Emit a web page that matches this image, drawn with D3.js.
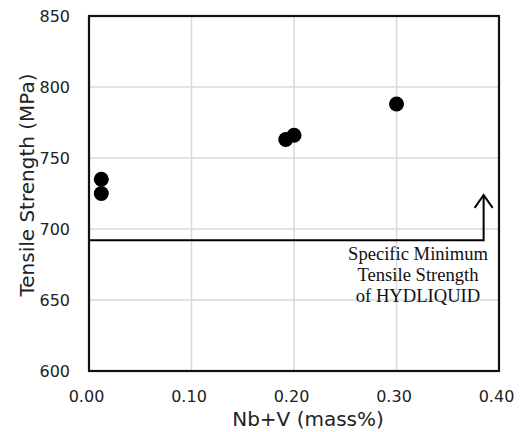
<!DOCTYPE html>
<html>
<head>
<meta charset="utf-8">
<script src="https://cdn.jsdelivr.net/npm/d3@7"></script>
<style>
  body { margin: 0; background: #fff; }
  svg { display: block; }
</style>
</head>
<body>
<svg id="chart"></svg>
<script>
// Nb+V content vs tensile strength
const nbv = [0.012, 0.012, 0.192, 0.200, 0.300];
const strength = [735, 725, 763, 766, 788];
const xTicks = [0, 0.1, 0.2, 0.3, 0.4];
const yTicks = [600, 650, 700, 750, 800, 850];
const smtsValue = 692;      // specific minimum tensile strength line
const smtsArrowX = 0.385;   // where the line turns up
const smtsArrowTop = 724;
const noteLines = ["Specific Minimum", "Tensile Strength", "of HYDLIQUID"];

const W = 521, H = 432;
const margin = { top: 16, right: 22, bottom: 61, left: 89 };
const width = W - margin.left - margin.right;
const height = H - margin.top - margin.bottom;
const sans = "'DejaVu Sans', Verdana, sans-serif";

const svg = d3.select("#chart")
    .attr("width", W)
    .attr("height", H);

const g = svg.append("g")
    .attr("transform", `translate(${margin.left},${margin.top})`);

const x = d3.scaleLinear().domain([0, 0.4]).range([0, width]);
const y = d3.scaleLinear().domain([600, 850]).range([height, 0]);

// gridlines
g.append("g")
    .selectAll("line")
    .data(xTicks.slice(1, -1))
    .enter()
    .append("line")
    .attr("x1", d => x(d)).attr("x2", d => x(d))
    .attr("y1", 0).attr("y2", height)
    .attr("stroke", "#d9d9d9")
    .attr("stroke-width", 1.5);

g.append("g")
    .selectAll("line")
    .data(yTicks.slice(1, -1))
    .enter()
    .append("line")
    .attr("y1", d => y(d)).attr("y2", d => y(d))
    .attr("x1", 0).attr("x2", width)
    .attr("stroke", "#d9d9d9")
    .attr("stroke-width", 1.5);

// axes (labels only, frame drawn separately)
const xAxis = g.append("g")
    .attr("transform", `translate(-3,${height})`)
    .call(d3.axisBottom(x).tickValues(xTicks).tickFormat(d3.format(".2f")).tickSize(0).tickPadding(20));
xAxis.select(".domain").remove();
xAxis.selectAll("text")
    .style("font-family", sans)
    .style("font-size", "16px")
    .style("fill", "#222");

const yAxis = g.append("g")
    .call(d3.axisLeft(y).tickValues(yTicks).tickSize(0).tickPadding(19));
yAxis.select(".domain").remove();
yAxis.selectAll("text")
    .style("font-family", sans)
    .style("font-size", "16px")
    .style("fill", "#222");

// plot frame
g.append("rect")
    .attr("x", 0).attr("y", 0)
    .attr("width", width).attr("height", height)
    .attr("fill", "none")
    .attr("stroke", "#111")
    .attr("stroke-width", 2.2);

// minimum strength line with arrow
g.append("path")
    .attr("d", `M0,${y(smtsValue)} H${x(smtsArrowX)} V${y(smtsArrowTop)}`)
    .attr("fill", "none")
    .attr("stroke", "#000")
    .attr("stroke-width", 2);

g.append("path")
    .attr("d", `M${x(smtsArrowX) - 9},${y(smtsArrowTop) + 13} L${x(smtsArrowX)},${y(smtsArrowTop)} L${x(smtsArrowX) + 9},${y(smtsArrowTop) + 13}`)
    .attr("fill", "none")
    .attr("stroke", "#000")
    .attr("stroke-width", 2);

const noteX = x(0.321);
const note = g.append("text")
    .attr("x", noteX)
    .attr("y", y(smtsValue) + 20)
    .attr("text-anchor", "middle")
    .style("font-family", "'Liberation Serif', 'Times New Roman', serif")
    .style("font-size", "18.6px")
    .style("fill", "#111");

note.selectAll("tspan")
    .data(noteLines)
    .enter()
    .append("tspan")
    .attr("x", noteX)
    .attr("dy", (d, i) => i === 0 ? 0 : 21)
    .text(d => d);

// data points
g.selectAll(".pt")
    .data(nbv.map((v, i) => [v, strength[i]]))
    .enter()
    .append("circle")
    .attr("class", "pt")
    .attr("cx", d => x(d[0]))
    .attr("cy", d => y(d[1]))
    .attr("r", 7.5)
    .attr("fill", "#000");

// axis titles
svg.append("text")
    .attr("x", 308)
    .attr("y", 426)
    .attr("text-anchor", "middle")
    .style("font-family", sans)
    .style("font-size", "20px")
    .style("fill", "#222")
    .text("Nb+V (mass%)");

svg.append("text")
    .attr("transform", `translate(34,185) rotate(-90)`)
    .attr("text-anchor", "middle")
    .style("font-family", sans)
    .style("font-size", "20px")
    .style("fill", "#222")
    .text("Tensile Strength (MPa)");
</script>
</body>
</html>
